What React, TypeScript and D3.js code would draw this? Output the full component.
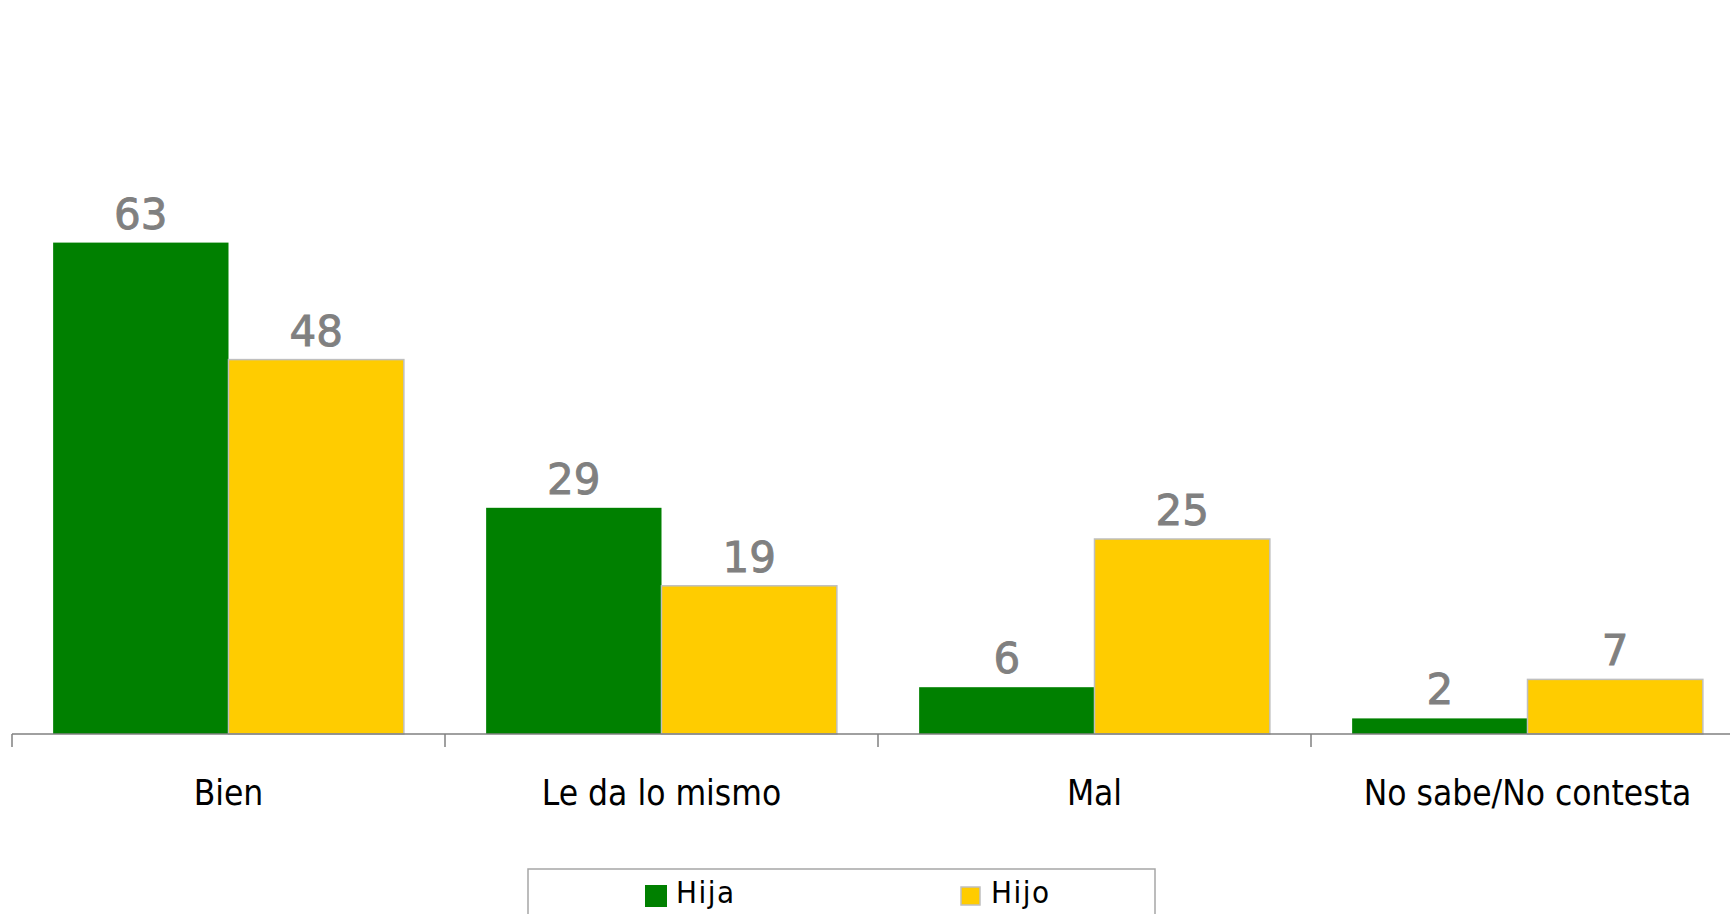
import React from "react";
import * as d3 from "d3";

const categories = ["Bien", "Le da lo mismo", "Mal", "No sabe/No contesta"];
const seriesNames = ["Hija", "Hijo"];
const hijaValues = [63, 29, 6, 2];
const hijoValues = [48, 19, 25, 7];
const seriesColors = ["#008000", "#FFCC00"];

export default function App() {
  const W = 1730;
  const H = 914;
  const axisY = 734;
  const bandW = 433;
  const left = 12;

  const x0 = d3
    .scaleBand<string>()
    .domain(categories)
    .range([left, left + bandW * categories.length])
    .paddingInner(0)
    .paddingOuter(0);
  const x1 = d3
    .scaleBand<string>()
    .domain(seriesNames)
    .range([x0.bandwidth() * 0.095, x0.bandwidth() * 0.905])
    .padding(0);
  const y = d3.scaleLinear().domain([0, 70]).range([axisY, axisY - 70 * 7.8]);

  const data = [hijaValues, hijoValues];
  const legendX = d3.scalePoint<string>().domain(seriesNames).range([645, 960]);

  return (
    <svg
      width={W}
      height={H}
      style={{ position: "absolute", left: 0, top: 0, background: "#fff" }}
    >
      <rect x={0} y={0} width={W} height={H} fill="#fff" />
      {categories.map((c, ci) => (
        <g key={c} transform={`translate(${x0(c)},0)`}>
          {seriesNames.map((s, si) => {
            const v = data[si][ci];
            const bx = x1(s)!;
            const bw = x1.bandwidth();
            return (
              <g key={s}>
                <rect
                  x={bx}
                  y={y(v)}
                  width={bw}
                  height={axisY - y(v)}
                  fill={seriesColors[si]}
                  stroke={si === 1 ? "#BFBFBF" : "none"}
                  strokeWidth={1.5}
                />
                <text
                  x={bx + bw / 2}
                  y={y(v) - 14}
                  textAnchor="middle"
                  fontFamily="DejaVu Sans"
                  fontSize={42}
                  fill="#808080"
                  stroke="#808080"
                  strokeWidth={0.9}
                >
                  {v}
                </text>
              </g>
            );
          })}
          <text
            x={x0.bandwidth() / 2}
            y={805}
            textAnchor="middle"
            fontFamily="DejaVu Sans"
            fontStretch="condensed"
            fontSize={35}
            fill="#000"
          >
            {c}
          </text>
        </g>
      ))}
      <line x1={left} x2={W} y1={axisY} y2={axisY} stroke="#808080" strokeWidth={1.5} />
      {categories.map((c) => (
        <line
          key={c}
          x1={x0(c)!}
          x2={x0(c)!}
          y1={axisY}
          y2={axisY + 13}
          stroke="#808080"
          strokeWidth={1.5}
        />
      ))}
      <g>
        <rect x={528} y={869} width={627} height={70} fill="#fff" stroke="#A6A6A6" strokeWidth={1.5} />
        {seriesNames.map((s, si) => {
          const lx = legendX(s)!;
          return (
            <g key={s}>
              <rect
                x={si === 1 ? lx + 1 : lx}
                y={si === 1 ? 887 : 885}
                width={si === 1 ? 19 : 22}
                height={si === 1 ? 18 : 22}
                fill={seriesColors[si]}
                stroke={si === 1 ? "#BFBFBF" : "none"}
                strokeWidth={1.5}
              />
              <text
                x={lx + 31}
                y={903}
                fontFamily="DejaVu Sans"
                fontStretch="condensed"
                fontSize={31}
                letterSpacing={1.5}
                fill="#000"
              >
                {s}
              </text>
            </g>
          );
        })}
      </g>
    </svg>
  );
}
